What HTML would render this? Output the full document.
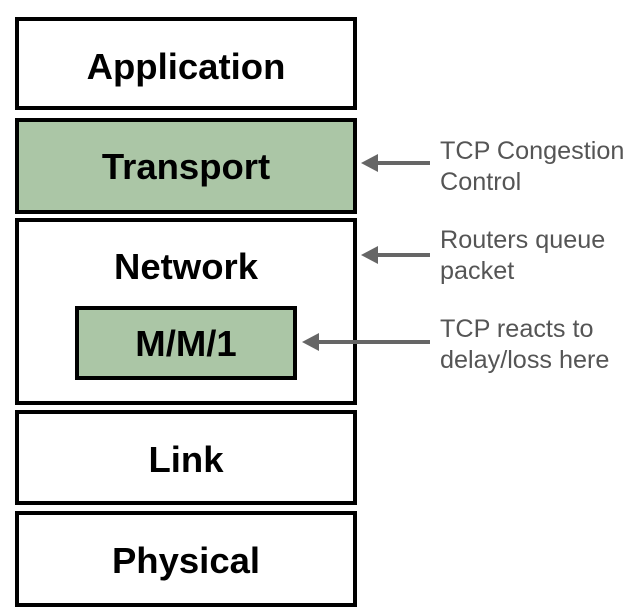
<!DOCTYPE html>
<html><head><meta charset="utf-8"><style>
html,body{margin:0;padding:0;background:#fff;}
svg{display:block;}
</style></head><body>
<svg width="644" height="616" viewBox="0 0 644 616" xmlns="http://www.w3.org/2000/svg">
<g stroke="#000" stroke-width="4">
<rect x="17" y="19" width="338" height="89" fill="#fff"/>
<rect x="17" y="120" width="338" height="92" fill="#abc6a6"/>
<rect x="17" y="220" width="338" height="183" fill="#fff"/>
<rect x="77" y="308" width="218" height="70" fill="#abc6a6"/>
<rect x="17" y="412" width="338" height="91" fill="#fff"/>
<rect x="17" y="513" width="338" height="92" fill="#fff"/>
</g>
<g font-family="Liberation Sans, Arial, sans-serif" font-weight="bold" font-size="36.5" fill="#000" text-anchor="middle">
<text x="186" y="79">Application</text>
<text x="186" y="179">Transport</text>
<text x="186" y="279">Network</text>
<text x="186" y="356">M/M/1</text>
<text x="186" y="472">Link</text>
<text x="186" y="573">Physical</text>
</g>
<g stroke="#666" stroke-width="4">
<line x1="374" y1="163" x2="430" y2="163"/>
<line x1="374" y1="255" x2="430" y2="255"/>
<line x1="315" y1="342" x2="430" y2="342"/>
</g>
<g fill="#666">
<polygon points="361,163 378,154 378,172"/>
<polygon points="361,255 378,246 378,264"/>
<polygon points="302,342 319,333 319,351"/>
</g>
<g font-family="Liberation Sans, Arial, sans-serif" font-size="25.2" fill="#555">
<text x="440" y="159">TCP Congestion</text>
<text x="440" y="190">Control</text>
<text x="440" y="248">Routers queue</text>
<text x="440" y="279">packet</text>
<text x="440" y="337">TCP reacts to</text>
<text x="440" y="368">delay/loss here</text>
</g>
</svg>
</body></html>
